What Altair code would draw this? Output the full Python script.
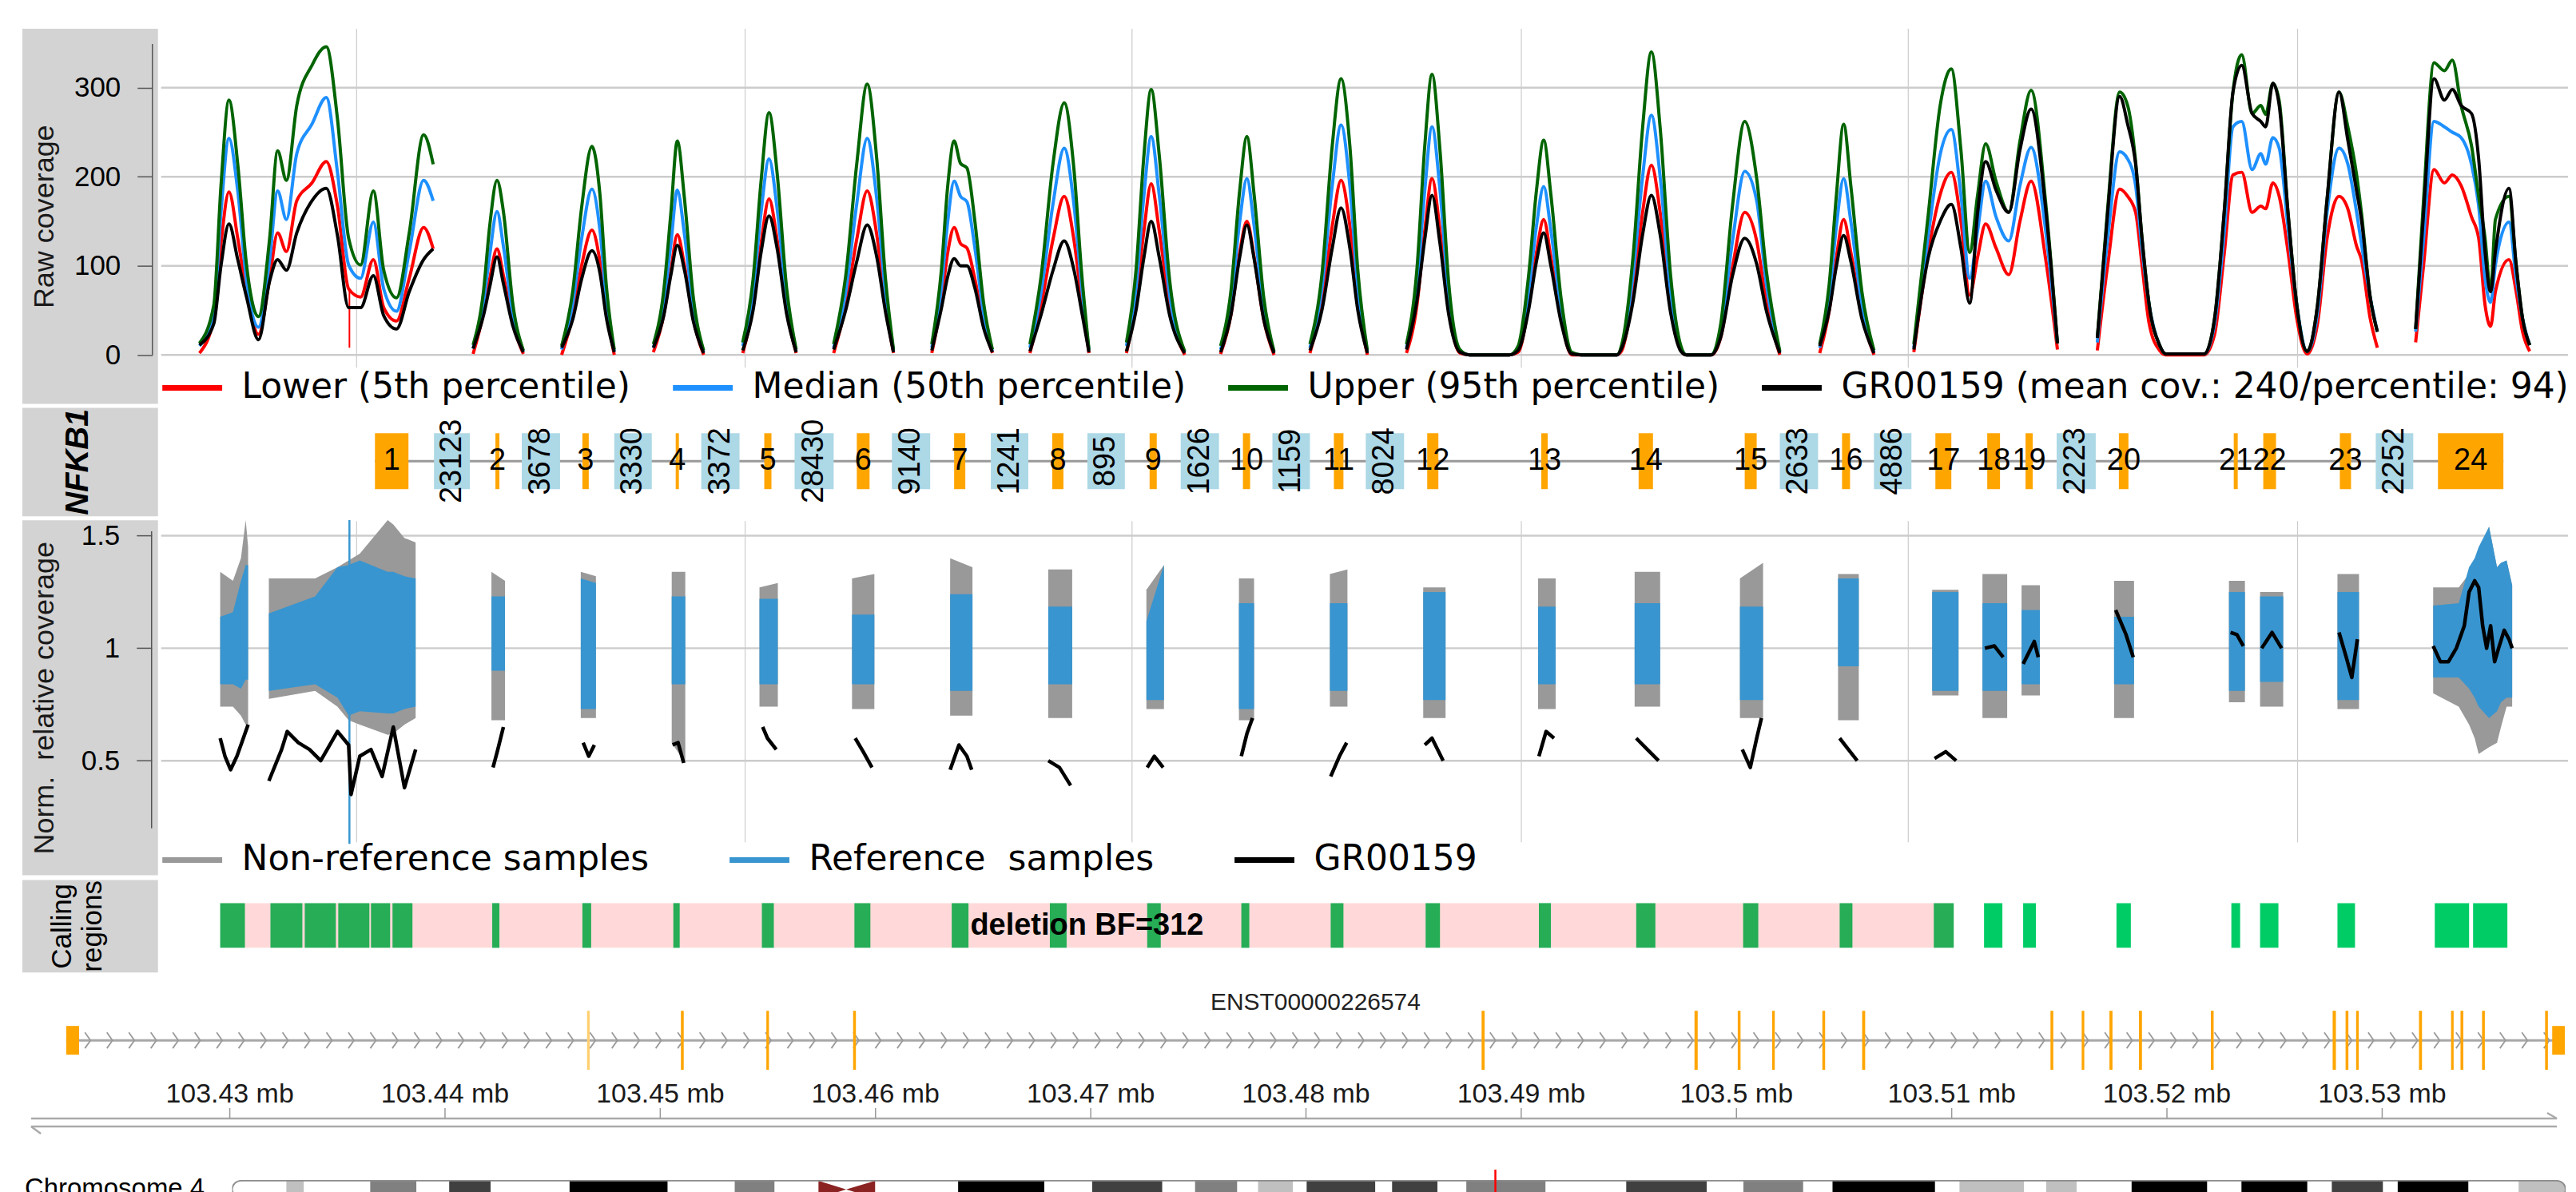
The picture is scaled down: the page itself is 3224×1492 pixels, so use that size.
import altair as alt
import numpy as np
import pandas as pd

# ============================ DATA ============================
GENE_NAME = "NFKB1"
RAW_SERIES = ["Lower (5th percentile)", "Median (50th percentile)",
              "Upper (95th percentile)", "GR00159 (mean cov.: 240/percentile: 94)"]
NORM_SERIES = ["Non-reference samples", "Reference\u00a0 samples", "GR00159"]

raw_ticks = [0, 100, 200, 300]
norm_ticks = [0.5, 1, 1.5]
grid_pos = [245, 732, 1217, 1705, 2190, 2678]          # compressed (exon-concatenated) positions

# raw coverage: (position, lower, median, upper, GR00159)
raw_seg01 = [(48, 2, 10, 13, 11), (66, 41, 47, 56, 35), (75, 125, 160, 190, 100), (85, 183, 243, 286, 147),
             (96, 131, 184, 214, 107), (107, 71, 83, 101, 65), (122, 23, 31, 43, 17), (136, 86, 107, 131, 83),
             (146, 137, 184, 229, 107), (157, 116, 152, 196, 95), (170, 173, 226, 280, 137),
             (189, 193, 259, 325, 173), (207, 217, 289, 346, 187), (221, 167, 205, 265, 134),
             (235, 74, 101, 131, 53), (250, 65, 86, 101, 53), (266, 107, 149, 184, 89), (279, 53, 74, 95, 44),
             (295, 38, 49, 64, 29), (311, 86, 116, 137, 71), (329, 143, 196, 247, 107), (341, 119, 173, 214, 119)]
raw_seg02 = [(391, 1, 7, 11, 7), (404, 47, 59, 71, 44), (412, 86, 113, 146, 77), (421, 119, 161, 196, 110),
             (429, 89, 122, 161, 80), (441, 35, 44, 56, 32), (454, 1, 4, 5, 3)]
raw_seg03 = [(502, 0, 6, 10, 8), (516, 45, 58, 72, 40), (527, 100, 130, 165, 85), (540, 140, 186, 234, 117),
             (550, 105, 140, 180, 92), (558, 50, 62, 78, 42), (568, 0, 4, 6, 3)]
raw_seg04 = [(617, 3, 8, 12, 8), (630, 45, 58, 72, 44), (639, 95, 125, 160, 90), (647, 135, 185, 240, 123),
             (656, 100, 135, 175, 95), (667, 40, 52, 65, 38), (680, 0, 3, 5, 2)]
raw_seg05 = [(729, 2, 10, 14, 5), (742, 55, 70, 85, 50), (752, 125, 160, 195, 115), (762, 175, 220, 272, 156),
             (772, 130, 165, 205, 120), (784, 50, 62, 75, 46), (796, 2, 4, 6, 3)]
raw_seg06 = [(843, 2, 8, 12, 6), (858, 55, 70, 88, 50), (872, 130, 170, 215, 105), (885, 184, 243, 304, 146),
             (897, 135, 175, 220, 110), (908, 55, 68, 85, 48), (918, 2, 4, 6, 3)]
raw_seg07 = [(966, 2, 8, 12, 5), (978, 60, 75, 95, 52), (986, 115, 150, 190, 88), (994, 143, 195, 240, 108),
             (1002, 125, 178, 215, 100), (1010, 120, 172, 210, 100), (1020, 85, 120, 150, 75),
             (1031, 35, 45, 58, 30), (1042, 2, 4, 6, 3)]
raw_seg08 = [(1089, 2, 8, 12, 4), (1103, 55, 70, 88, 45), (1118, 130, 170, 215, 95), (1132, 178, 232, 283, 128),
             (1144, 130, 170, 210, 96), (1154, 60, 75, 90, 48), (1163, 2, 5, 6, 3)]
raw_seg09 = [(1210, 2, 10, 14, 4), (1222, 60, 75, 95, 50), (1232, 140, 180, 225, 110), (1241, 192, 245, 298, 150),
             (1251, 140, 180, 225, 110), (1264, 55, 68, 85, 45), (1283, 0, 3, 4, 2)]
raw_seg10 = [(1328, 1, 6, 10, 3), (1341, 45, 58, 72, 45), (1352, 115, 150, 185, 110), (1361, 150, 198, 245, 146),
             (1370, 110, 145, 180, 108), (1382, 40, 52, 65, 40), (1395, 0, 3, 4, 2)]
raw_seg11 = [(1440, 2, 8, 12, 5), (1455, 60, 75, 90, 50), (1468, 145, 190, 235, 120), (1479, 196, 258, 310, 165),
             (1490, 145, 190, 235, 120), (1500, 60, 75, 95, 50), (1512, 0, 3, 5, 2)]
raw_seg12 = [(1561, 2, 8, 12, 6), (1574, 55, 75, 95, 60), (1584, 140, 185, 235, 130), (1593, 198, 256, 315, 179),
             (1603, 140, 185, 230, 125), (1614, 50, 65, 80, 45), (1628, 2, 4, 6, 3), (1640, 0, 0, 0, 0),
             (1690, 0, 0, 0, 0), (1701, 3, 8, 10, 5), (1714, 55, 70, 88, 50), (1724, 115, 145, 185, 105),
             (1733, 152, 189, 241, 137), (1742, 110, 140, 180, 100), (1755, 40, 50, 62, 36), (1768, 0, 2, 3, 1),
             (1780, 0, 0, 0, 0), (1825, 0, 0, 0, 0), (1831, 5, 10, 12, 8), (1845, 70, 90, 110, 60),
             (1857, 160, 200, 255, 135), (1868, 213, 269, 340, 179), (1879, 160, 200, 255, 135),
             (1892, 55, 70, 90, 48), (1905, 5, 8, 10, 4), (1912, 0, 0, 0, 0), (1943, 0, 0, 0, 0),
             (1955, 20, 28, 35, 20), (1970, 100, 130, 170, 90), (1985, 160, 206, 262, 131),
             (2000, 128, 173, 198, 102), (2012, 60, 80, 95, 50), (2029, 0, 3, 4, 2)]
raw_seg13 = [(2079, 2, 8, 12, 10), (2091, 50, 65, 80, 50), (2100, 110, 145, 180, 100), (2109, 152, 198, 259, 134),
             (2118, 115, 150, 190, 105), (2132, 45, 55, 70, 40), (2147, 0, 3, 5, 2)]
raw_seg14 = [(2197, 3, 8, 12, 6), (2215, 115, 134, 157, 109), (2230, 180, 225, 280, 150), (2244, 205, 253, 321, 169),
             (2256, 150, 180, 230, 120), (2267, 67, 86, 115, 58), (2277, 110, 140, 180, 160),
             (2287, 147, 195, 237, 217), (2300, 120, 155, 195, 185), (2316, 90, 128, 160, 160),
             (2330, 150, 190, 240, 230), (2344, 195, 233, 297, 276), (2362, 109, 141, 173, 166), (2377, 6, 13, 13, 13)]
raw_seg15 = [(2427, 5, 14, 19, 19), (2440, 101, 131, 165, 160), (2455, 186, 228, 295, 290), (2465, 178, 220, 280, 259),
             (2475, 160, 190, 217, 214), (2483, 101, 119, 131, 131), (2492, 35, 56, 56, 56), (2505, 5, 11, 11, 11),
             (2513, 0, 1, 1, 1), (2561, 0, 1, 1, 1), (2574, 23, 35, 41, 41), (2586, 113, 137, 160, 160),
             (2597, 202, 256, 295, 295), (2608, 205, 262, 337, 325), (2621, 160, 208, 271, 271),
             (2632, 167, 226, 280, 262), (2638, 164, 214, 270, 256), (2647, 193, 244, 305, 305),
             (2655, 178, 232, 285, 280), (2666, 116, 143, 160, 160), (2677, 41, 56, 56, 56), (2690, 1, 4, 4, 4),
             (2703, 35, 47, 56, 56), (2715, 131, 160, 175, 175), (2730, 178, 232, 295, 295),
             (2741, 164, 214, 256, 241), (2752, 122, 160, 202, 184), (2758, 107, 125, 160, 152),
             (2769, 41, 65, 65, 65), (2778, 8, 26, 26, 26)]
raw_seg16 = [(2826, 14, 26, 29, 29), (2836, 101, 131, 175, 160), (2849, 208, 262, 328, 310), (2862, 193, 256, 319, 286),
             (2872, 202, 250, 331, 298), (2883, 190, 244, 280, 280), (2896, 155, 214, 235, 271),
             (2905, 131, 167, 178, 220), (2913, 56, 86, 131, 116), (2920, 32, 59, 71, 71), (2926, 71, 101, 152, 116),
             (2943, 107, 149, 178, 187), (2952, 71, 86, 101, 101), (2960, 26, 41, 41, 41), (2969, 4, 11, 11, 11)]
raw_lower_spike = [(236, 8, 74)]   # (position, low, high)

# normalised coverage bands: (position, non-ref low, non-ref high, ref low, ref high)
norm_band01 = [(74, 0.74, 1.34, 0.84, 1.14), (90, 0.74, 1.30, 0.84, 1.16), (100, 0.70, 1.40, 0.82, 1.30),
               (106, 0.66, 1.57, 0.86, 1.37), (109, 0.66, 1.45, 0.86, 1.37)]
norm_band02 = [(135, 0.775, 1.31, 0.81, 1.155), (193, 0.81, 1.31, 0.84, 1.23), (221, 0.74, 1.36, 0.78, 1.36),
               (235, 0.68, 1.39, 0.70, 1.37), (249, 0.66, 1.42, 0.72, 1.39), (284, 0.615, 1.57, 0.71, 1.34),
               (291, 0.62, 1.55, 0.71, 1.34), (305, 0.66, 1.49, 0.73, 1.32), (319, 0.69, 1.47, 0.74, 1.31)]
norm_band03 = [(414, 0.68, 1.34, 0.90, 1.23), (431, 0.68, 1.30, 0.90, 1.23)]
norm_band04 = [(526, 0.69, 1.34, 0.73, 1.31), (545, 0.69, 1.32, 0.73, 1.29)]
norm_band05 = [(640, 0.58, 1.34, 0.84, 1.23), (657, 0.49, 1.34, 0.84, 1.23)]
norm_band06 = [(750, 0.74, 1.27, 0.84, 1.22), (773, 0.74, 1.29, 0.84, 1.22)]
norm_band07 = [(866, 0.73, 1.31, 0.84, 1.15), (894, 0.73, 1.33, 0.84, 1.15)]
norm_band08 = [(989, 0.70, 1.40, 0.81, 1.24), (1017, 0.70, 1.36, 0.81, 1.24)]
norm_band09 = [(1112, 0.69, 1.35, 0.84, 1.185), (1142, 0.69, 1.35, 0.84, 1.185)]
norm_band10 = [(1235, 0.73, 1.26, 0.77, 1.12), (1257, 0.73, 1.37, 0.77, 1.37)]
norm_band11 = [(1351, 0.68, 1.31, 0.73, 1.20), (1370, 0.68, 1.31, 0.73, 1.20)]
norm_band12 = [(1465, 0.74, 1.33, 0.81, 1.20), (1487, 0.74, 1.35, 0.81, 1.20)]
norm_band13 = [(1582, 0.69, 1.27, 0.77, 1.25), (1610, 0.69, 1.27, 0.77, 1.25)]
norm_band14 = [(1726, 0.73, 1.31, 0.84, 1.185), (1748, 0.73, 1.31, 0.84, 1.185)]
norm_band15 = [(1847, 0.74, 1.34, 0.84, 1.20), (1879, 0.74, 1.34, 0.84, 1.20)]
norm_band16 = [(1979, 0.69, 1.31, 0.77, 1.185), (2008, 0.69, 1.38, 0.77, 1.185)]
norm_band17 = [(2102, 0.68, 1.33, 0.92, 1.31), (2128, 0.68, 1.33, 0.92, 1.31)]
norm_band18 = [(2220, 0.79, 1.26, 0.81, 1.25), (2253, 0.79, 1.26, 0.81, 1.25)]
norm_band19 = [(2283, 0.69, 1.33, 0.81, 1.20), (2314, 0.69, 1.33, 0.81, 1.20)]
norm_band20 = [(2332, 0.79, 1.28, 0.84, 1.17), (2355, 0.79, 1.28, 0.84, 1.17)]
norm_band21 = [(2448, 0.69, 1.30, 0.84, 1.14), (2473, 0.69, 1.30, 0.84, 1.14)]
norm_band22 = [(2592, 0.76, 1.30, 0.81, 1.25), (2612, 0.76, 1.30, 0.81, 1.25)]
norm_band23 = [(2631, 0.74, 1.25, 0.85, 1.23), (2660, 0.74, 1.25, 0.85, 1.23)]
norm_band24 = [(2728, 0.73, 1.33, 0.77, 1.25), (2755, 0.73, 1.33, 0.77, 1.25)]
norm_band25 = [(2848, 0.80, 1.27, 0.87, 1.19), (2880, 0.74, 1.27, 0.87, 1.20), (2893, 0.66, 1.33, 0.82, 1.36),
               (2900, 0.60, 1.36, 0.78, 1.40), (2905, 0.53, 1.40, 0.74, 1.45), (2918, 0.56, 1.54, 0.69, 1.54),
               (2928, 0.58, 1.36, 0.72, 1.36), (2933, 0.65, 1.38, 0.76, 1.38), (2940, 0.74, 1.39, 0.78, 1.39),
               (2947, 0.74, 1.28, 0.78, 1.28)]
norm_blue_spike = [(236, 0.13, 1.57)]

# GR00159 normalised coverage: (position, value)
norm_line01 = [(74, 0.60), (80, 0.52), (87, 0.46), (95, 0.52), (103, 0.60), (109, 0.66)]
norm_line02 = [(135, 0.41), (151, 0.55), (158, 0.63), (172, 0.58), (186, 0.55), (200, 0.50), (221, 0.63),
               (235, 0.57), (238, 0.35), (249, 0.52), (263, 0.55), (277, 0.43), (291, 0.65), (305, 0.38), (319, 0.55)]
norm_line03 = [(416, 0.47), (422, 0.55), (429, 0.65)]
norm_line04 = [(529, 0.58), (536, 0.52), (543, 0.57)]
norm_line05 = [(641, 0.57), (648, 0.58), (655, 0.49)]
norm_line06 = [(754, 0.65), (760, 0.60), (771, 0.55)]
norm_line07 = [(870, 0.60), (880, 0.54), (891, 0.47)]
norm_line08 = [(989, 0.46), (1000, 0.57), (1010, 0.52), (1016, 0.46)]
norm_line09 = [(1112, 0.50), (1126, 0.47), (1140, 0.39)]
norm_line10 = [(1236, 0.47), (1245, 0.52), (1256, 0.47)]
norm_line11 = [(1354, 0.52), (1361, 0.62), (1368, 0.69)]
norm_line12 = [(1466, 0.43), (1477, 0.52), (1486, 0.58)]
norm_line13 = [(1584, 0.57), (1593, 0.60), (1607, 0.50)]
norm_line14 = [(1727, 0.52), (1736, 0.63), (1746, 0.60)]
norm_line15 = [(1849, 0.60), (1863, 0.55), (1877, 0.50)]
norm_line16 = [(1982, 0.55), (1992, 0.47), (2000, 0.60), (2006, 0.69)]
norm_line17 = [(2104, 0.60), (2115, 0.55), (2126, 0.50)]
norm_line18 = [(2223, 0.51), (2237, 0.54), (2250, 0.50)]
norm_line19 = [(2286, 1.00), (2298, 1.01), (2309, 0.96)]
norm_line20 = [(2334, 0.93), (2348, 1.03), (2353, 0.96)]
norm_line21 = [(2450, 1.17), (2463, 1.06), (2472, 0.96)]
norm_line22 = [(2594, 1.07), (2602, 1.06), (2610, 1.01)]
norm_line23 = [(2633, 1.00), (2646, 1.07), (2658, 1.00)]
norm_line24 = [(2730, 1.07), (2739, 0.96), (2746, 0.87), (2753, 1.04)]
norm_line25 = [(2848, 1.01), (2857, 0.94), (2867, 0.94), (2877, 1.00), (2887, 1.10), (2893, 1.25), (2900, 1.30),
               (2905, 1.27), (2910, 1.10), (2915, 1.00), (2920, 1.10), (2925, 0.94), (2930, 1.00), (2937, 1.08),
               (2943, 1.04), (2947, 1.00)]

# gene model in compressed coordinates
exon_labels = [str(i) for i in range(1, 25)]
exon_start = [270, 421, 530, 647, 758, 874, 996, 1119, 1241, 1358, 1472, 1589, 1732, 1854, 1987, 2109, 2226,
              2291, 2339, 2456, 2600, 2637, 2733, 2856]
exon_end = [312, 426, 538, 651, 767, 890, 1010, 1133, 1250, 1367, 1484, 1603, 1740, 1872, 2002, 2119, 2246,
            2307, 2348, 2468, 2605, 2653, 2747, 2938]
intron_labels = ["23123", "3678", "3330", "3372", "28430", "9140", "1241", "895", "1626", "1159", "8024",
                 "2633", "4886", "2223", "2252"]
intron_start = [344, 454, 570, 679, 796, 918, 1042, 1163, 1280, 1395, 1512, 2031, 2149, 2378, 2778]
intron_end = [389, 502, 617, 727, 845, 966, 1089, 1210, 1328, 1442, 1560, 2079, 2196, 2427, 2825]

# calling regions and the deletion call
calling_start = [76, 139, 182, 224, 265, 292, 417, 530, 644, 755, 871, 993, 1116, 1238, 1356, 1468, 1587, 1729,
                 1851, 1985, 2106, 2224, 2287, 2336, 2453, 2597, 2633, 2730, 2852, 2900]
calling_end = [107, 179, 221, 263, 289, 317, 426, 541, 652, 770, 891, 1014, 1137, 1255, 1366, 1484, 1605, 1744,
               1875, 2004, 2122, 2249, 2310, 2352, 2471, 2608, 2656, 2752, 2895, 2943]
deletion_span = [76, 2249]
deletion_label = "deletion BF=312"

# transcript in genomic coordinates (chr4)
transcript_id = "ENST00000226574"
tx_span = [103422400, 103538485]
cds_exon_start = [103446600, 103450960, 103454930, 103458960, 103488160, 103498050, 103500060, 103501660,
                  103503990, 103505840, 103514590, 103516040, 103517330, 103518700, 103522040, 103527700,
                  103528300, 103528790, 103531710, 103533200, 103533640, 103534640, 103537570]
cds_exon_end = [103446720, 103451090, 103455050, 103459090, 103488300, 103498200, 103500190, 103501780,
                103504120, 103505980, 103514720, 103516160, 103517470, 103518840, 103522170, 103527850,
                103528430, 103528910, 103531850, 103533320, 103533770, 103534770, 103537700]
utr_start = [103422400, 103537900]
utr_end = [103423000, 103538485]
genome_ticks = [103430000, 103440000, 103450000, 103460000, 103470000, 103480000,
                103490000, 103500000, 103510000, 103520000, 103530000]

# chromosome 4 ideogram (Mb)
chrom_label = "Chromosome 4"
chrom_length = 191.154
band_start = [0, 4.44, 5.88, 11.31, 15.10, 17.78, 21.17, 27.64, 35.68, 41.17, 44.44, 48.03, 52.67, 59.47,
              66.53, 70.45, 76.20, 78.88, 82.34, 84.04, 86.91, 88.02, 93.65, 95.02, 98.74, 101.1, 107.6, 114.2,
              120.8, 123.8, 128.7, 131.1, 139.5, 141.5, 146.8, 148.6, 151.1, 155.6, 161.8, 164.6, 170.0, 172.0,
              176.2, 177.4, 183.2, 187.3]
band_stain = ["gneg", "gpos25", "gneg", "gpos50", "gneg", "gpos75", "gneg", "gpos100", "gneg", "gpos50",
              "gneg", "acen", "gneg", "gpos100", "gneg", "gpos75", "gneg", "gpos50", "gneg", "gpos25",
              "gneg", "gpos75", "gneg", "gpos75", "gneg", "gpos50", "gneg", "gpos75", "gneg", "gpos50",
              "gneg", "gpos100", "gneg", "gpos25", "gneg", "gpos25", "gneg", "gpos100", "gneg", "gpos100",
              "gneg", "gpos75", "gneg", "gpos100", "gneg", "gpos25"]
centromere_x = [48.03, 50.3, 52.67]

# ============================ STYLE / LAYOUT ============================
RAW_COLORS = ["#FF0000", "#1E90FF", "#006400", "#000000"]
NORM_COLORS = ["#999999", "#3995CF", "#000000"]
STAIN_NAMES = ["gneg", "gpos25", "gpos50", "gpos75", "gpos100", "acen"]
STAIN_COLORS = ["#FFFFFF", "#C0C0C0", "#808080", "#404040", "#000000", "#FFFFFF"]
ORANGE, LIGHT_ORANGE, LIGHTBLUE = "#FFA500", "#FFCF70", "#ADD8E6"
STRIP_FILL, GRID, AXIS_COLOR = "#D3D3D3", "#CCCCCC", "#555555"
CALL_GREEN, DEL_RED = "#00CC66", "#FF0000"
FONT, LEGEND_FONT = "Liberation Sans", "DejaVu Sans"

STRIP_W, PANEL_W, STRIP_GAP = 170, 3017, 2
H_RAW, H_GENE, H_NORM, H_CALL, H_TX, H_IDEO = 470, 136, 445, 116, 239, 36
RAW_DOMAIN, RAW_VGRID, RAW_AXIS = [-54.9, 366.0], [-14.3, 366.0], [0, 349]
NORM_DOMAIN, NORM_VGRID, NORM_AXIS = [-0.009, 1.569], [0.137, 1.565], [0.2, 1.52]
G_DOMAIN = [103420363, 103538560]
AXIS_SPAN = [103420771, 103538116]
TX_Y = {"label": 204, "ex0": 120, "ex1": 194, "utr0": 139, "utr1": 175, "line": 157,
        "tlabel": 89, "tick0": 59, "tick1": 72, "ax1": 59, "ax2": 49}
GENE_Y = {"y0": 0.25, "y1": 0.765, "mid": 0.507}
CALL_Y = {"y0": 0.267, "y1": 0.75, "mid": 0.5}

xs = alt.Scale(domain=[0, PANEL_W], nice=False, zero=False)
X = alt.X("pos:Q", scale=xs, axis=None)
ys_raw = alt.Scale(domain=RAW_DOMAIN, nice=False, zero=False)
ys_norm = alt.Scale(domain=NORM_DOMAIN, nice=False, zero=False)
ys01 = alt.Scale(domain=[0, 1], nice=False, zero=False)


def Yq(field, scale):
    return alt.Y(f"{field}:Q", scale=scale, axis=None)


def legend(y, cols, pad):
    return alt.Legend(title=None, orient="none", legendX=STRIP_W + STRIP_GAP, legendY=y,
                      direction="horizontal", columns=cols, symbolType="stroke", symbolSize=5625,
                      symbolStrokeWidth=7, labelFont=LEGEND_FONT, labelFontSize=44, labelColor="#000000",
                      labelOffset=21, columnPadding=pad, labelLimit=3000, padding=0)


def strip(height, scale, ticks, span, title, offset):
    df = pd.DataFrame({"a": [span[0]], "b": [span[1]]})
    return alt.Chart(df).mark_rule(color=AXIS_COLOR, strokeWidth=1.5).encode(
        x=alt.value(offset),
        y=alt.Y("a:Q", scale=scale, axis=alt.Axis(
            values=ticks, labelExpr="'' + datum.value", orient="left", offset=-offset, domain=False,
            grid=False, tickSize=19, tickWidth=1.5, tickColor=AXIS_COLOR, labelFont=FONT, labelFontSize=35,
            labelColor="#000000", labelPadding=21, title=title, titleFont=FONT, titleFontSize=36,
            titleFontWeight="normal", titleColor="#1a1a1a", titleX=28 - offset, titleY=height / 2,
            titleAngle=270, titleAlign="center", titleBaseline="middle")),
        y2="b:Q",
    ).properties(width=STRIP_W, height=height, view=alt.ViewBackground(fill=STRIP_FILL, strokeWidth=0))


def text_strip(height, items, **style):
    layers = [alt.Chart(pd.DataFrame({"t": [t]})).mark_text(angle=270, font=FONT, color="#000000",
                                                             align="center", baseline="middle", clip=True,
                                                             **style)
              .encode(text="t:N", x=alt.value(x), y=alt.value(height / 2)) for t, x in items]
    return alt.layer(*layers).properties(width=STRIP_W, height=height,
                                         view=alt.ViewBackground(fill=STRIP_FILL, strokeWidth=0))


def row(left, right, gap=STRIP_GAP):
    return alt.hconcat(left, right, spacing=gap)


# ---------------- raw coverage panel ----------------
RAW_SEGMENTS = [raw_seg01, raw_seg02, raw_seg03, raw_seg04, raw_seg05, raw_seg06, raw_seg07, raw_seg08,
                raw_seg09, raw_seg10, raw_seg11, raw_seg12, raw_seg13, raw_seg14, raw_seg15, raw_seg16]
recs = []
for i, seg in enumerate(RAW_SEGMENTS):
    for r in seg:
        for name, val in zip(RAW_SERIES, r[1:]):
            recs.append({"seg": i, "pos": r[0], "v": val, "series": name})
raw_df = pd.DataFrame(recs)

raw_color = alt.Color("series:N", scale=alt.Scale(domain=RAW_SERIES, range=RAW_COLORS),
                      legend=legend(409, 4, 38))
raw_hgrid = alt.Chart(pd.DataFrame({"v": raw_ticks})).mark_rule(color=GRID, strokeWidth=2.5).encode(
    y=Yq("v", ys_raw))
raw_vgrid = alt.Chart(pd.DataFrame({"pos": grid_pos, "a": RAW_VGRID[0], "b": RAW_VGRID[1]})).mark_rule(
    color=GRID, strokeWidth=1.2).encode(x=X, y=Yq("a", ys_raw), y2="b:Q")
raw_lines = [alt.Chart(raw_df[raw_df["series"] == s]).mark_line(
    strokeWidth=4, interpolate="monotone", strokeJoin="round").encode(
    x=X, y=Yq("v", ys_raw), color=raw_color, detail="seg:N") for s in RAW_SERIES]
raw_spike = alt.Chart(pd.DataFrame(raw_lower_spike, columns=["pos", "a", "b"])).mark_rule(
    color=RAW_COLORS[0], strokeWidth=2).encode(x=X, y=Yq("a", ys_raw), y2="b:Q")
raw_panel = alt.layer(raw_hgrid, raw_vgrid, raw_lines[0], raw_spike, *raw_lines[1:]).properties(
    width=PANEL_W, height=H_RAW)
row_raw = row(strip(H_RAW, ys_raw, raw_ticks, RAW_AXIS, "Raw coverage", 163), raw_panel)

# ---------------- gene model panel ----------------
gene_line = alt.Chart(pd.DataFrame({"s": [exon_start[0]], "e": [exon_end[-1]], "y": [GENE_Y["mid"]]})).mark_rule(
    color="#999999", strokeWidth=3).encode(x=alt.X("s:Q", scale=xs, axis=None), x2="e:Q", y=Yq("y", ys01))
intr = pd.DataFrame({"s": intron_start, "e": intron_end, "t": intron_labels})
intr["m"] = (intr["s"] + intr["e"]) / 2
intr["y0"], intr["y1"], intr["ym"] = GENE_Y["y0"], GENE_Y["y1"], GENE_Y["mid"]
exo = pd.DataFrame({"s": exon_start, "e": exon_end, "t": exon_labels})
exo["m"] = (exo["s"] + exo["e"]) / 2
exo["y0"], exo["y1"], exo["ym"] = GENE_Y["y0"], GENE_Y["y1"], GENE_Y["mid"]
intron_box = alt.Chart(intr).mark_rect(color=LIGHTBLUE).encode(
    x=alt.X("s:Q", scale=xs, axis=None), x2="e:Q", y=Yq("y0", ys01), y2="y1:Q")
exon_box = alt.Chart(exo).mark_rect(color=ORANGE).encode(
    x=alt.X("s:Q", scale=xs, axis=None), x2="e:Q", y=Yq("y0", ys01), y2="y1:Q")
intron_txt = alt.Chart(intr).mark_text(angle=270, font=FONT, fontSize=38, color="#000000", align="center",
                                       baseline="middle").encode(
    x=alt.X("m:Q", scale=xs, axis=None), y=Yq("ym", ys01), text="t:N")
exon_txt = alt.Chart(exo).mark_text(font=FONT, fontSize=38, color="#000000", align="center",
                                    baseline="middle").encode(
    x=alt.X("m:Q", scale=xs, axis=None), y=Yq("ym", ys01), text="t:N")
gene_panel = alt.layer(gene_line, intron_box, exon_box, intron_txt, exon_txt).properties(
    width=PANEL_W, height=H_GENE)
row_gene = row(text_strip(H_GENE, [(GENE_NAME, 70)], fontSize=40, fontStyle="italic", fontWeight="bold"),
               gene_panel)

# ---------------- normalised coverage panel ----------------
NORM_BANDS = [norm_band01, norm_band02, norm_band03, norm_band04, norm_band05, norm_band06, norm_band07,
              norm_band08, norm_band09, norm_band10, norm_band11, norm_band12, norm_band13, norm_band14,
              norm_band15, norm_band16, norm_band17, norm_band18, norm_band19, norm_band20, norm_band21,
              norm_band22, norm_band23, norm_band24, norm_band25]
NORM_LINES = [norm_line01, norm_line02, norm_line03, norm_line04, norm_line05, norm_line06, norm_line07,
              norm_line08, norm_line09, norm_line10, norm_line11, norm_line12, norm_line13, norm_line14,
              norm_line15, norm_line16, norm_line17, norm_line18, norm_line19, norm_line20, norm_line21,
              norm_line22, norm_line23, norm_line24, norm_line25]
band_df = pd.DataFrame([{"seg": i, "pos": r[0], "glo": r[1], "ghi": r[2], "blo": r[3], "bhi": r[4]}
                        for i, b in enumerate(NORM_BANDS) for r in b])
line_df = pd.DataFrame([{"seg": i, "pos": r[0], "v": r[1], "series": NORM_SERIES[2]}
                        for i, b in enumerate(NORM_LINES) for r in b])
norm_hgrid = alt.Chart(pd.DataFrame({"v": norm_ticks})).mark_rule(color=GRID, strokeWidth=2.5).encode(
    y=Yq("v", ys_norm))
norm_vgrid = alt.Chart(pd.DataFrame({"pos": grid_pos, "a": NORM_VGRID[0], "b": NORM_VGRID[1]})).mark_rule(
    color=GRID, strokeWidth=1.2).encode(x=X, y=Yq("a", ys_norm), y2="b:Q")
gray_band = alt.Chart(band_df).mark_area(color=NORM_COLORS[0]).encode(
    x=X, y=alt.Y("glo:Q", scale=ys_norm, axis=None, stack=False), y2="ghi:Q", detail="seg:N")
blue_band = alt.Chart(band_df).mark_area(color=NORM_COLORS[1]).encode(
    x=X, y=alt.Y("blo:Q", scale=ys_norm, axis=None, stack=False), y2="bhi:Q", detail="seg:N")
blue_spike = alt.Chart(pd.DataFrame(norm_blue_spike, columns=["pos", "a", "b"])).mark_rule(
    color=NORM_COLORS[1], strokeWidth=2.5).encode(x=X, y=Yq("a", ys_norm), y2="b:Q")
norm_color = alt.Color("series:N", scale=alt.Scale(domain=NORM_SERIES, range=NORM_COLORS),
                       legend=legend(385, 3, 86))
sample_line = alt.Chart(line_df).mark_line(strokeWidth=4.5, strokeJoin="round").encode(
    x=X, y=Yq("v", ys_norm), color=norm_color, detail="seg:N")
norm_panel = alt.layer(norm_hgrid, norm_vgrid, gray_band, blue_band, blue_spike, sample_line).properties(
    width=PANEL_W, height=H_NORM)
row_norm = row(strip(H_NORM, ys_norm, norm_ticks, NORM_AXIS, "Norm.\u00a0 relative coverage", 162), norm_panel)

# ---------------- calling regions panel ----------------
call_df = pd.DataFrame({"s": calling_start, "e": calling_end})
call_df["y0"], call_df["y1"] = CALL_Y["y0"], CALL_Y["y1"]
del_df = pd.DataFrame({"s": [deletion_span[0]], "e": [deletion_span[1]], "y0": [CALL_Y["y0"]],
                       "y1": [CALL_Y["y1"]], "t": [deletion_label]})
del_df["m"] = (del_df["s"] + del_df["e"]) / 2
del_df["ym"] = CALL_Y["mid"]
green = alt.Chart(call_df).mark_rect(color=CALL_GREEN).encode(
    x=alt.X("s:Q", scale=xs, axis=None), x2="e:Q", y=Yq("y0", ys01), y2="y1:Q")
deletion = alt.Chart(del_df).mark_rect(color=DEL_RED, opacity=0.15).encode(
    x=alt.X("s:Q", scale=xs, axis=None), x2="e:Q", y=Yq("y0", ys01), y2="y1:Q")
del_txt = alt.Chart(del_df).mark_text(font=FONT, fontSize=38, fontWeight="bold", color="#000000",
                                      align="center", baseline="middle").encode(
    x=alt.X("m:Q", scale=xs, axis=None), y=Yq("ym", ys01), text="t:N")
call_panel = alt.layer(green, deletion, del_txt).properties(width=PANEL_W, height=H_CALL)
row_call = row(text_strip(H_CALL, [("Calling", 50), ("regions", 88)], fontSize=35), call_panel)

# ---------------- transcript + genome axis ----------------
xg = alt.Scale(domain=G_DOMAIN, nice=False, zero=False)
ytx = alt.Scale(domain=[0, H_TX], nice=False, zero=False)


def GX(f):
    return alt.X(f"{f}:Q", scale=xg, axis=None)


tx_line = alt.Chart(pd.DataFrame({"s": [tx_span[0]], "e": [tx_span[1]], "y": [TX_Y["line"]]})).mark_rule(
    color="#A8A8A8", strokeWidth=3).encode(x=GX("s"), x2="e:Q", y=Yq("y", ytx))
chev = pd.DataFrame({"g": np.arange(tx_span[0] + 1000, tx_span[1] - 300, 1020)})
chev["y"] = TX_Y["line"]
chevrons = alt.Chart(chev).mark_point(shape="M-0.35,-1L0.35,0L-0.35,1", size=400, color="#9A9A9A",
                                      strokeWidth=1.8, filled=False, opacity=1).encode(x=GX("g"), y=Yq("y", ytx))
cds = pd.DataFrame({"s": cds_exon_start, "e": cds_exon_end})
cds["y0"], cds["y1"] = TX_Y["ex0"], TX_Y["ex1"]
cds_first = alt.Chart(cds.iloc[[0]]).mark_rect(color=LIGHT_ORANGE).encode(
    x=GX("s"), x2="e:Q", y=Yq("y0", ytx), y2="y1:Q")
cds_rest = alt.Chart(cds.iloc[1:]).mark_rect(color=ORANGE).encode(
    x=GX("s"), x2="e:Q", y=Yq("y0", ytx), y2="y1:Q")
utr = pd.DataFrame({"s": utr_start, "e": utr_end})
utr["y0"], utr["y1"] = TX_Y["utr0"], TX_Y["utr1"]
utr_box = alt.Chart(utr).mark_rect(color=ORANGE).encode(x=GX("s"), x2="e:Q", y=Yq("y0", ytx), y2="y1:Q")
tx_lab = alt.Chart(pd.DataFrame({"g": [(tx_span[0] + tx_span[1]) / 2], "y": [TX_Y["label"]],
                                 "t": [transcript_id]})).mark_text(
    font=FONT, fontSize=30, color="#222222", align="center", baseline="middle").encode(
    x=GX("g"), y=Yq("y", ytx), text="t:N")
tk = pd.DataFrame({"g": genome_ticks})
tk["t"] = [f"{v / 1e6:g} mb" for v in genome_ticks]
tk["y"], tk["a"], tk["b"] = TX_Y["tlabel"], TX_Y["tick0"], TX_Y["tick1"]
tick_lab = alt.Chart(tk).mark_text(font=FONT, fontSize=34, color="#1a1a1a", align="center",
                                   baseline="middle").encode(x=GX("g"), y=Yq("y", ytx), text="t:N")
tick_mark = alt.Chart(tk).mark_rule(color="#999999", strokeWidth=1.5).encode(
    x=GX("g"), y=Yq("a", ytx), y2="b:Q")
ax_lines = pd.DataFrame({"s": [AXIS_SPAN[0]] * 2, "e": [AXIS_SPAN[1]] * 2, "y": [TX_Y["ax1"], TX_Y["ax2"]]})
axis_lines = alt.Chart(ax_lines).mark_rule(color="#AAAAAA", strokeWidth=2.5).encode(
    x=GX("s"), x2="e:Q", y=Yq("y", ytx))
barb_df = pd.DataFrame({"s": [AXIS_SPAN[0], AXIS_SPAN[1]], "e": [AXIS_SPAN[0] + 450, AXIS_SPAN[1] - 450],
                        "a": [TX_Y["ax2"], TX_Y["ax1"]], "b": [TX_Y["ax2"] - 9, TX_Y["ax1"] + 7]})
barbs = alt.Chart(barb_df).mark_rule(color="#AAAAAA", strokeWidth=2.5).encode(
    x=GX("s"), x2="e:Q", y=Yq("a", ytx), y2="b:Q")
row_tx = alt.layer(tx_line, chevrons, cds_first, cds_rest, utr_box, tx_lab, axis_lines, barbs,
                   tick_mark, tick_lab).properties(width=STRIP_W + STRIP_GAP + PANEL_W, height=H_TX)

# ---------------- ideogram ----------------
xc = alt.Scale(domain=[0, chrom_length], nice=False, zero=False)
yi = alt.Scale(domain=[0, H_IDEO], nice=False, zero=False)


def CX(f):
    return alt.X(f"{f}:Q", scale=xc, axis=None)


bands = pd.DataFrame({"s": band_start, "e": band_start[1:] + [chrom_length], "stain": band_stain})
bands["y0"], bands["y1"] = -2, 20
stain_color = alt.Color("stain:N", scale=alt.Scale(domain=STAIN_NAMES, range=STAIN_COLORS), legend=None)
band_main = alt.Chart(bands.iloc[:-1]).mark_rect(clip=True).encode(
    x=CX("s"), x2="e:Q", y=Yq("y0", yi), y2="y1:Q", color=stain_color)
band_last = alt.Chart(bands.iloc[-1:]).mark_rect(clip=True, cornerRadiusTopRight=11,
                                                 cornerRadiusBottomRight=11).encode(
    x=CX("s"), x2="e:Q", y=Yq("y0", yi), y2="y1:Q", color=stain_color)
cen = pd.DataFrame({"x": centromere_x, "lo": [-2, 9, -2], "hi": [20, 9, 20]})
cen_area = alt.Chart(cen).mark_area(color="#8B2323", clip=True).encode(
    x=CX("x"), y=alt.Y("lo:Q", scale=yi, axis=None, stack=False), y2="hi:Q")
outline = alt.Chart(pd.DataFrame({"s": [0], "e": [chrom_length], "y0": [-2], "y1": [20]})).mark_rect(
    fillOpacity=0, stroke="#8C8C8C", strokeWidth=2, cornerRadius=11, clip=True).encode(
    x=CX("s"), x2="e:Q", y=Yq("y0", yi), y2="y1:Q")
marker = alt.Chart(pd.DataFrame({"x": [(tx_span[0] + tx_span[1]) / 2e6], "a": [-2], "b": [34]})).mark_rule(
    color="#FF0000", strokeWidth=2.5, clip=True).encode(x=CX("x"), y=Yq("a", yi), y2="b:Q")
ideo = alt.layer(band_main, band_last, cen_area, outline, marker).properties(width=2925, height=H_IDEO)
chrom_txt = alt.Chart(pd.DataFrame({"t": [chrom_label]})).mark_text(
    font=FONT, fontSize=33, color="#000000", align="left", baseline="middle").encode(
    text="t:N", x=alt.value(3), y=alt.value(26)).properties(width=255, height=H_IDEO)
row_ideo = row(chrom_txt, ideo, gap=8)

chart = alt.vconcat(row_raw, row_gene, row_norm, row_call, row_tx, row_ideo, spacing=3).resolve_scale(
    color="independent").resolve_legend(color="independent").properties(
    padding={"left": 20, "top": 26, "right": 0, "bottom": 0}, background="#FFFFFF"
).configure_view(strokeWidth=0)

chart.save("out.html", embed_options={"renderer": "svg", "actions": False})
